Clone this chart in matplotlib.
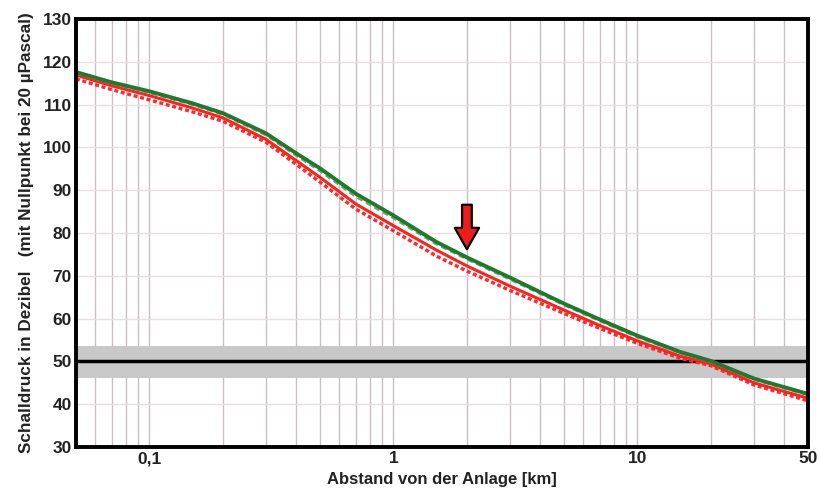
import matplotlib
matplotlib.use("Agg")
import matplotlib.pyplot as plt
import numpy as np
from matplotlib.ticker import FixedLocator, NullFormatter, FixedFormatter

plt.rcParams['font.family'] = ['Liberation Sans', 'DejaVu Sans']

# distance in km
dist = [0.05, 0.07, 0.1, 0.15, 0.2, 0.3, 0.4, 0.5, 0.7, 1.0, 1.5, 2.0, 3.0, 5.0, 7.0, 10.0, 15.0, 20.0, 30.0, 50.0]
green_solid = [117.6, 115.2, 113.1, 110.3, 108.0, 103.3, 98.6, 95.1, 89.2, 84.1, 77.9, 74.3, 69.6, 63.5, 59.8, 56.0, 52.2, 50.1, 46.0, 42.4]
green_dash  = [117.3, 114.9, 112.7, 109.9, 107.6, 102.8, 98.0, 94.4, 88.4, 83.4, 77.3, 73.8, 69.1, 63.1, 59.4, 55.6, 51.9, 49.8, 45.7, 42.1]
red_solid   = [116.9, 114.4, 112.1, 109.2, 106.9, 101.9, 96.9, 93.0, 86.8, 81.7, 76.0, 72.3, 67.6, 62.0, 58.4, 54.8, 51.2, 49.4, 45.0, 41.4]
red_dot     = [116.0, 113.5, 111.1, 108.3, 106.1, 101.2, 96.0, 91.9, 85.6, 80.5, 74.6, 71.1, 66.6, 61.2, 57.7, 54.2, 50.7, 49.0, 44.5, 40.8]

band_low, band_high = 46.2, 53.5
ref_level = 50
arrow_x, arrow_top, arrow_tip = 2.0, 86.6, 76.2

xticks = [0.1, 1, 10, 50]
xticklabels = ["0,1", "1", "10", "50"]
yticks = list(range(30, 131, 10))

fig = plt.figure(figsize=(8.19, 4.93), dpi=100)
ax = fig.add_axes([0.0928, 0.0933, 0.8938, 0.8682])
ax.set_xscale('log')
ax.set_xlim(0.05, 50)
ax.set_ylim(30, 130)

# grid
minor = [m * 10.0**e for e in range(-2, 2) for m in range(1, 10)]
minor = [v for v in minor if 0.05 < v < 50]
for v in minor:
    ax.axvline(v, color='#c9c1c1', lw=1.0, zorder=1)
for y in yticks[1:-1]:
    ax.axhline(y, color='#e8e0e0', lw=1.0, zorder=1)

ax.axhspan(band_low, band_high, color='#c8c8c8', zorder=2, lw=0)
ax.axhline(ref_level, color='black', lw=2.5, zorder=3)

ax.plot(dist, red_dot, color='#ff2a2a', lw=2.4, ls=(0, (1.2, 0.8)), zorder=4)
ax.plot(dist, red_solid, color='#ff2020', lw=2.2, zorder=4)
ax.plot(dist, green_dash, color='#6aaa6a', lw=1.4, ls=(0, (3, 2)), zorder=5)
ax.plot(dist, green_solid, color='#1e7a2e', lw=2.8, zorder=5)

ax.annotate('', xy=(arrow_x, arrow_tip), xytext=(arrow_x, arrow_top),
            arrowprops=dict(arrowstyle='simple,head_length=1.1,head_width=1.25,tail_width=0.5',
                            mutation_scale=14, fc='#ee1c1c', ec='black', lw=1.6,
                            shrinkA=0, shrinkB=0),
            zorder=6)

ax.xaxis.set_major_locator(FixedLocator(xticks))
ax.xaxis.set_major_formatter(FixedFormatter(xticklabels))
ax.xaxis.set_minor_locator(FixedLocator([]))
ax.xaxis.set_minor_formatter(NullFormatter())
ax.set_yticks(yticks)
ax.tick_params(length=0, labelsize=12.5, pad=3)
for lab in ax.get_xticklabels() + ax.get_yticklabels():
    lab.set_fontweight('bold')
    lab.set_color('#222222')

for s in ax.spines.values():
    s.set_linewidth(2.8)
    s.set_color('black')
    s.set_zorder(7)

ax.set_xlabel('Abstand von der Anlage [km]', fontsize=12, fontweight='bold', labelpad=4, color='#222222')
ax.set_ylabel('Schalldruck in Dezibel   (mit Nullpunkt bei 20 µPascal)', fontsize=12.3,
              fontweight='bold', labelpad=6, color='#222222')

fig.savefig('out.png', dpi=100)
